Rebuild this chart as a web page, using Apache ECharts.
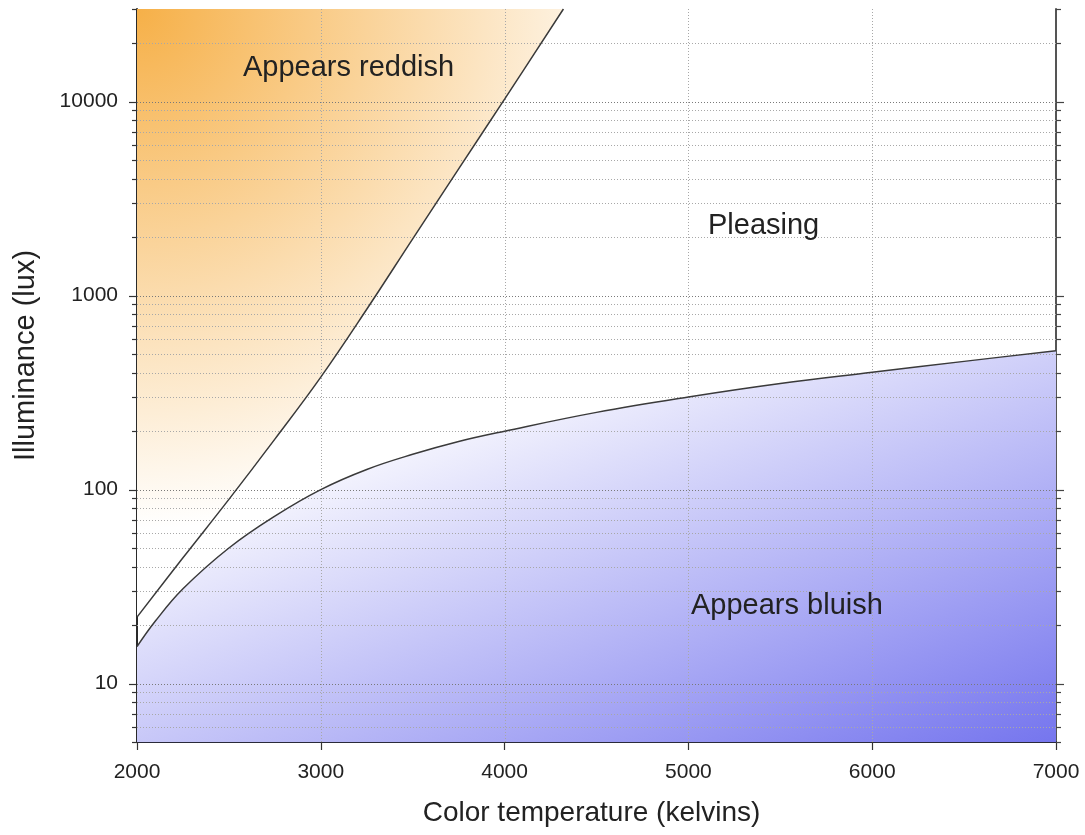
<!DOCTYPE html>
<html><head><meta charset="utf-8">
<script src="https://cdn.jsdelivr.net/npm/echarts@6/dist/echarts.min.js"></script>
<style>html,body{margin:0;padding:0;background:#fff}#c{width:1085px;height:835px}</style>
</head><body><div id="c"></div>
<script>
// ---- data ----
const xTicks = [2000, 3000, 4000, 5000, 6000, 7000];
const yMajorTicks = [10, 100, 1000, 10000];
const yMinorTicks = [5, 6, 7, 8, 9, 20, 30, 40, 50, 60, 70, 80, 90,
  200, 300, 400, 500, 600, 700, 800, 900,
  2000, 3000, 4000, 5000, 6000, 7000, 8000, 9000, 20000, 30000];
// boundary above which light appears reddish
const reddishTemps = [2000, 2250, 2500, 2750, 3000, 3250, 3500, 3750, 4000, 4320];
const reddishLux   = [22, 44.5, 89, 182, 380, 850, 1960, 4500, 10300, 30000];
// boundary below which light appears bluish
const bluishTemps = [2000, 2100, 2250, 2500, 2750, 3000, 3250, 3500, 3750, 4000, 4500, 5000, 5500, 6000, 6500, 7000];
const bluishLux   = [15.5, 21, 30.8, 50, 73, 100, 127, 152, 177, 200, 250, 300, 352, 402, 458, 520];
const regionLabels = ['Appears reddish', 'Pleasing', 'Appears bluish'];
const xTitle = 'Color temperature (kelvins)';
const yTitle = 'Illuminance (lux)';

const X_MIN = 2000, X_MAX = 7000, Y_MIN = 5, Y_MAX = 30000;
const FONT = '"Liberation Sans", Arial, sans-serif';

const pair = (xs, ys) => xs.map((x, i) => [x, ys[i]]);
const reddish = pair(reddishTemps, reddishLux);
const bluish = pair(bluishTemps, bluishLux);

const chart = echarts.init(document.getElementById('c'));
const crisp = v => Math.round(v) + 0.5;

const option = {
  animation: false,
  backgroundColor: '#fff',
  textStyle: { fontFamily: FONT },
  grid: { left: 137, right: 29, top: 9, bottom: 93, containLabel: false, outerBoundsMode: 'none' },
  xAxis: {
    type: 'value', min: X_MIN, max: X_MAX, interval: 1000,
    name: xTitle, nameLocation: 'middle', nameGap: 57,
    nameTextStyle: { fontSize: 28, color: '#222', fontFamily: FONT, padding: [0, 10, 0, 0] },
    axisLine: { show: true, onZero: false, lineStyle: { color: '#2a2a3a', width: 2 } },
    axisTick: { show: true, inside: false, length: 8, lineStyle: { color: '#333', width: 1.2 } },
    axisLabel: { fontSize: 21, color: '#222', margin: 20, fontFamily: FONT,
      formatter: v => String(v) },
    splitLine: { show: false }
  },
  yAxis: [{
    type: 'log', logBase: 10, min: Y_MIN, max: Y_MAX, position: 'left',
    name: yTitle, nameLocation: 'middle', nameGap: 97, nameRotate: 90,
    nameTextStyle: { fontSize: 29, color: '#222', fontFamily: FONT, padding: [0, 0, 0, 40] },
    axisLine: { show: true, onZero: false, lineStyle: { color: '#2a2a2a', width: 2 } },
    axisTick: { show: false },
    axisLabel: { fontSize: 21, color: '#222', margin: 19, fontFamily: FONT,
      showMinLabel: false, showMaxLabel: false,
      formatter: v => String(Math.round(v)) },
    splitLine: { show: false }
  }, {
    type: 'log', logBase: 10, min: Y_MIN, max: Y_MAX, position: 'right',
    axisLine: { show: true, onZero: false, lineStyle: { color: '#555', width: 2 } },
    axisTick: { show: false }, axisLabel: { show: false }, splitLine: { show: false }
  }],
  series: [
    { // reddish region fill
      type: 'line', data: reddish, smooth: 0.4, symbol: 'none', z: 1,
      lineStyle: { width: 0, opacity: 0 },
      areaStyle: { origin: 'end', opacity: 1,
        color: new echarts.graphic.RadialGradient(0, 0, 1.22, [
          { offset: 0, color: '#f6b048' },
          { offset: 1, color: '#ffffff' }
        ]) },
      silent: true
    },
    { // bluish region fill
      type: 'line', data: bluish, smooth: 0.4, symbol: 'none', z: 1,
      lineStyle: { width: 0, opacity: 0 },
      areaStyle: { origin: 'start', opacity: 1,
        color: new echarts.graphic.LinearGradient(-0.088, 0.467, 0.133, 1.8, [
          { offset: 0, color: '#ffffff' },
          { offset: 1, color: '#7575ee' }
        ]) },
      silent: true
    },
    { // horizontal grid lines + y ticks
      type: 'custom', z: 2, silent: true,
      encode: { x: 0, y: 1 },
      data: yMajorTicks.map(v => [X_MIN, v, 1]).concat(yMinorTicks.map(v => [X_MIN, v, 0])),
      renderItem(params, api) {
        const cs = params.coordSys;
        const y = crisp(api.coord([api.value(0), api.value(1)])[1]);
        const major = api.value(2) === 1;
        const L = major ? 8 : 5;
        const ch = [];
        if (y > cs.y + 2 && y < cs.y + cs.height - 2) {
          ch.push({ type: 'line', shape: { x1: cs.x, y1: y, x2: cs.x + cs.width, y2: y },
            style: { stroke: major ? '#7a7a7a' : '#a8a8a8', lineWidth: 1, lineDash: [1, 2] } });
        }
        ch.push({ type: 'line', shape: { x1: cs.x - L, y1: y, x2: cs.x, y2: y },
          style: { stroke: '#333', lineWidth: 1.2 } });
        ch.push({ type: 'line', shape: { x1: cs.x + cs.width, y1: y, x2: cs.x + cs.width + L, y2: y },
          style: { stroke: '#444', lineWidth: 1.2 } });
        return { type: 'group', children: ch };
      }
    },
    { // vertical grid lines
      type: 'custom', z: 2, silent: true,
      encode: { x: 0, y: 1 },
      data: xTicks.map(t => [t, Y_MIN]),
      renderItem(params, api) {
        const cs = params.coordSys;
        const x = crisp(api.coord([api.value(0), api.value(1)])[0]);
        if (x <= cs.x + 2 || x >= cs.x + cs.width - 2) return { type: 'group', children: [] };
        return { type: 'line', shape: { x1: x, y1: cs.y, x2: x, y2: cs.y + cs.height },
          style: { stroke: '#a8a8a8', lineWidth: 1, lineDash: [1, 2] } };
      }
    },
    { // reddish boundary curve
      type: 'line', data: reddish, smooth: 0.4, symbol: 'none', z: 3, silent: true,
      lineStyle: { color: '#3a3a3a', width: 1.5 }
    },
    { // bluish boundary curve
      type: 'line', data: bluish, smooth: 0.4, symbol: 'none', z: 3, silent: true,
      lineStyle: { color: '#3a3a3a', width: 1.5 }
    }
  ],
  graphic: [
    { type: 'text', x: 243, y: 68, z: 10,
      style: { text: regionLabels[0], font: '29px ' + FONT, fill: '#222', textAlign: 'left', textVerticalAlign: 'middle', verticalAlign: 'middle' } },
    { type: 'text', x: 708, y: 226, z: 10,
      style: { text: regionLabels[1], font: '29px ' + FONT, fill: '#222', textAlign: 'left', textVerticalAlign: 'middle', verticalAlign: 'middle' } },
    { type: 'text', x: 691, y: 606, z: 10,
      style: { text: regionLabels[2], font: '29px ' + FONT, fill: '#222', textAlign: 'left', textVerticalAlign: 'middle', verticalAlign: 'middle' } }
  ]
};
chart.setOption(option);
</script>
</body></html>
